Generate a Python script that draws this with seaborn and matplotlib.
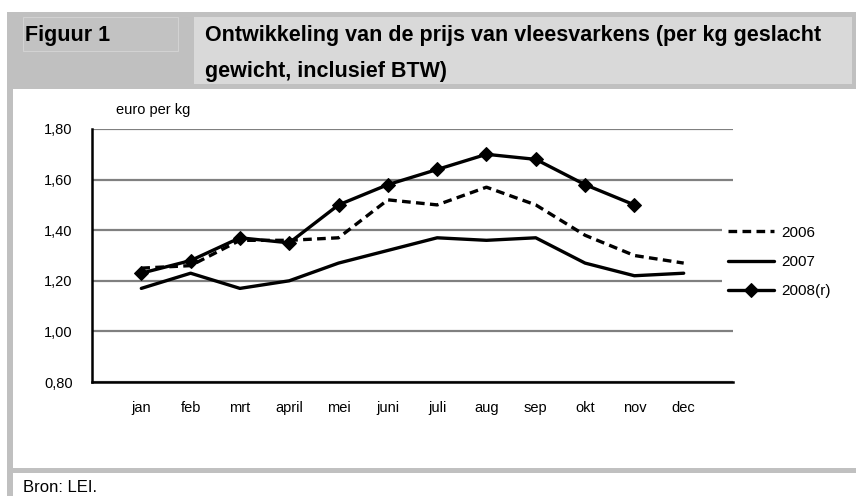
import numpy as np
import pandas as pd
import matplotlib
matplotlib.use("Agg")
from matplotlib import pyplot as plt
from matplotlib.patches import Rectangle
import seaborn as sns

# data (euro per kg)
maanden = ['jan', 'feb', 'mrt', 'april', 'mei', 'juni', 'juli', 'aug',
           'sep', 'okt', 'nov', 'dec']
prijs_2006 = [1.25, 1.26, 1.36, 1.36, 1.37, 1.52, 1.50, 1.57, 1.50, 1.38, 1.30, 1.27]
prijs_2007 = [1.17, 1.23, 1.17, 1.20, 1.27, 1.32, 1.37, 1.36, 1.37, 1.27, 1.22, 1.23]
prijs_2008 = [1.23, 1.28, 1.37, 1.35, 1.50, 1.58, 1.64, 1.70, 1.68, 1.58, 1.50]
y_ticks = [0.80, 1.00, 1.20, 1.40, 1.60, 1.80]

W, H = 856, 496

sns.set_style('white')
plt.rcParams['font.family'] = ['Liberation Sans', 'DejaVu Sans']
plt.rcParams['text.color'] = 'black'

fig = plt.figure(figsize=(W / 100, H / 100), dpi=100)


def box(x0, y0, x1, y1, **kw):
    """rechthoek in pixels (y van boven) op de figuur"""
    fig.patches.append(Rectangle((x0 / W, 1 - y1 / H), (x1 - x0) / W, (y1 - y0) / H,
                                 transform=fig.transFigure, figure=fig, **kw))


# kader rond de figuur
box(7, 12, W, 89, facecolor='#c0c0c0', edgecolor='none')
box(23, 17, 178, 51, facecolor='#c2c2c2', edgecolor='#d2d2d2', lw=0.8)
box(194, 17, 852, 84, facecolor='#d9d9d9', edgecolor='none')
box(7, 89, 13, H, facecolor='#c0c0c0', edgecolor='none')
box(7, 468, W, 473, facecolor='#c0c0c0', edgecolor='none')

fig.text(25 / W, 1 - 35 / H, 'Figuur 1', fontsize=15.5, fontweight='bold', va='center')
fig.text(205 / W, 1 - 35 / H, 'Ontwikkeling van de prijs van vleesvarkens (per kg geslacht',
         fontsize=15.5, fontweight='bold', va='center')
fig.text(205 / W, 1 - 71 / H, 'gewicht, inclusief BTW)', fontsize=15.5, fontweight='bold',
         va='center')
fig.text(23 / W, 1 - 488 / H, 'Bron: LEI.', fontsize=12, va='center')
fig.text(116 / W, 1 - 110 / H, 'euro per kg', fontsize=10.5, va='center')

ax = fig.add_axes([92 / W, 1 - 382 / H, 641 / W, 253 / H])

x = np.arange(1, 13)
df06 = pd.DataFrame({'maand': x, 'prijs': prijs_2006})
df07 = pd.DataFrame({'maand': x, 'prijs': prijs_2007})
df08 = pd.DataFrame({'maand': x[:len(prijs_2008)], 'prijs': prijs_2008})

sns.lineplot(data=df06, x='maand', y='prijs', ax=ax, color='black', lw=2.4, label='2006')
ax.lines[-1].set_dashes((2.6, 1.6))
sns.lineplot(data=df07, x='maand', y='prijs', ax=ax, color='black', lw=2.4, label='2007')
sns.lineplot(data=df08, x='maand', y='prijs', ax=ax, color='black', lw=2.4,
             marker='D', markersize=7.5, markeredgecolor='black', label='2008(r)')

ax.set_xlim(0, 13)
ax.set_ylim(0.8, 1.8)
ax.set_xticks(np.arange(1, 14))
ax.set_xticklabels(maanden + [''])
ax.set_yticks(y_ticks)
ax.set_yticklabels([f'{v:.2f}'.replace('.', ',') for v in y_ticks])
ax.set_xlabel('')
ax.set_ylabel('')

ax.yaxis.grid(True, color='#808080', lw=1.6)
ax.set_axisbelow(True)
for s in ['top', 'right']:
    ax.spines[s].set_visible(False)
for s in ['left', 'bottom']:
    ax.spines[s].set_color('black')
    ax.spines[s].set_linewidth(1.8)
ax.tick_params(axis='x', direction='in', length=5, width=1.5, pad=14, labelsize=10.5,
               colors='black')
ax.tick_params(axis='y', direction='in', length=5, width=1.5, pad=14, labelsize=10.5,
               colors='black')

leg = ax.legend(loc='center left', bbox_to_anchor=(722 / W, 1 - 262 / H),
                bbox_transform=fig.transFigure, frameon=True, fontsize=11,
                handlelength=3.0, handletextpad=0.45, labelspacing=1.0,
                borderpad=0.4, borderaxespad=0)
leg.get_frame().set_facecolor('white')
leg.get_frame().set_edgecolor('none')
leg.get_frame().set_alpha(1)

fig.savefig('out.png', dpi=100)
